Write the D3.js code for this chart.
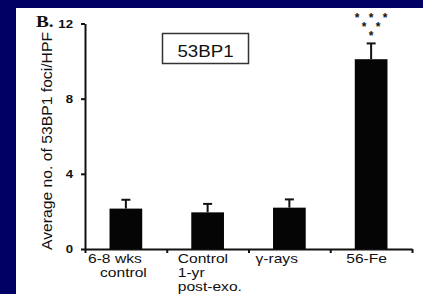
<!DOCTYPE html>
<html lang="en">
<head>
<meta charset="UTF-8">
<title>53BP1 foci</title>
<script src="https://d3js.org/d3.v7.min.js"></script>
<style>
    body, html { margin: 0; padding: 0; background: #000064; }
    svg { display: block; }
    text { font-family: "Liberation Sans", Arial, sans-serif; fill: #111; }
</style>
</head>
<body>
<svg width="423" height="294"></svg>
<script>
    // data
    const categories = ["6-8 wks control", "Control 1-yr post-exo.", "γ-rays", "56-Fe"];
    const labelLines = [["6-8 wks", "control"], ["Control", "1-yr", "post-exo."], ["γ-rays"], ["56-Fe"]];
    const means = [2.15, 1.95, 2.2, 10.1];
    const errors = [0.47, 0.45, 0.44, 0.84];
    const yTicks = [0, 4, 8, 12];
    const starRows = [3, 2, 1]; // asterisks above 56-Fe

    // label offsets from the start of each band (the original is hand placed)
    const labelDx = [[3, 15], [11, 11, 11], [7], [16]];

    const svg = d3.select("svg");
    const K = 1.2; // the picture is a bit stretched sideways

    function stretch(sel, k) {
        sel.each(function() {
            const w = this.getComputedTextLength();
            d3.select(this).attr("textLength", w * k).attr("lengthAdjust", "spacingAndGlyphs");
        });
    }

    // white panel
    svg.append("rect").attr("x", 16).attr("y", 8).attr("width", 407).attr("height", 286).attr("fill", "#fff");

    const x = d3.scaleBand().domain(categories).range([85, 412]).padding(0);
    const xEdge = d3.scaleLinear().domain([0, categories.length]).range([85, 412]);
    const y = d3.scaleLinear().domain([0, 12]).range([249, 23.5]);
    const barW = x.bandwidth() * 0.4;

    // y axis
    const gy = svg.append("g").attr("transform", "translate(85,0)")
        .call(d3.axisLeft(y).tickValues(yTicks).tickSize(4).tickSizeOuter(0).tickPadding(8));
    gy.selectAll("path, line").attr("stroke", "#111").attr("stroke-width", 2);
    gy.selectAll("text").style("font-size", "11px").style("font-weight", "bold")
        .attr("fill", "#111").call(stretch, K);

    // x axis: ticks at band edges, no labels
    const gx = svg.append("g").attr("transform", "translate(0,249)")
        .call(d3.axisBottom(xEdge).tickValues(d3.range(categories.length + 1)).tickFormat("").tickSize(4).tickSizeOuter(0));
    gx.selectAll("path, line").attr("stroke", "#111").attr("stroke-width", 2);

    // category labels
    categories.forEach((c, i) => {
        labelLines[i].forEach((line, j) => {
            svg.append("text")
                .attr("x", x(c) + labelDx[i][j])
                .attr("y", 262.5 + j * 14)
                .style("font-size", "13px")
                .text(line)
                .call(stretch, K);
        });
    });

    // bars
    svg.selectAll("rect.bar")
        .data(means)
        .enter().append("rect")
        .attr("class", "bar")
        .attr("x", (d, i) => x(categories[i]) + (x.bandwidth() - barW) / 2)
        .attr("width", barW)
        .attr("y", d => y(d))
        .attr("height", d => y(0) - y(d))
        .attr("fill", "#050505");

    // upper error bars
    const eb = svg.append("g").attr("stroke", "#111").attr("stroke-width", 2);
    means.forEach((m, i) => {
        const cx = x(categories[i]) + x.bandwidth() / 2;
        eb.append("line").attr("x1", cx).attr("x2", cx).attr("y1", y(m)).attr("y2", y(m + errors[i]));
        eb.append("line").attr("x1", cx - 4.5).attr("x2", cx + 4.5).attr("y1", y(m + errors[i])).attr("y2", y(m + errors[i]));
    });

    // significance asterisks
    const cFe = x(categories[3]) + x.bandwidth() / 2;
    starRows.forEach((n, r) => {
        for (let k = 0; k < n; k++) {
            svg.append("text")
                .attr("x", cFe + (k - (n - 1) / 2) * 14)
                .attr("y", 22 + r * 9.2)
                .attr("text-anchor", "middle")
                .style("font-size", "12px")
                .style("font-weight", "bold")
                .text("*");
        }
    });

    // y title
    svg.append("text")
        .attr("transform", "translate(52,141) rotate(-90)")
        .attr("text-anchor", "middle")
        .attr("textLength", 218)
        .attr("lengthAdjust", "spacingAndGlyphs")
        .style("font-size", "15px")
        .text("Average no. of 53BP1 foci/HPF");

    // panel letter
    svg.append("text")
        .attr("x", 36).attr("y", 27)
        .style("font-family", "'Liberation Serif', 'Times New Roman', serif")
        .style("font-size", "16px").style("font-weight", "bold")
        .text("B.")
        .call(stretch, K);

    // legend box
    svg.append("rect").attr("x", 162.5).attr("y", 33.5).attr("width", 86).attr("height", 30)
        .attr("fill", "#fff").attr("stroke", "#333").attr("stroke-width", 1.5);
    svg.append("text")
        .attr("x", 205.5).attr("y", 56.5)
        .attr("text-anchor", "middle")
        .style("font-size", "16px")
        .text("53BP1")
        .call(stretch, 1.17);
</script>
</body>
</html>
